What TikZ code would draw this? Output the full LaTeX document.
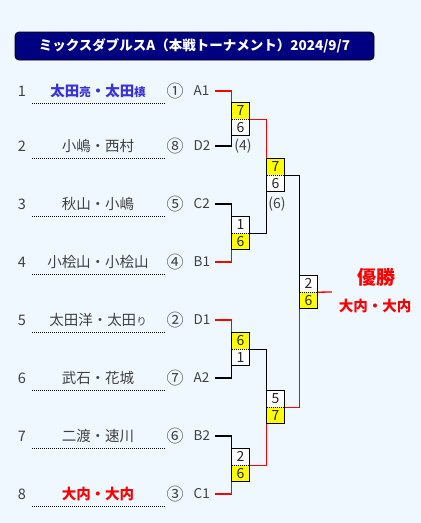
\documentclass[tikz,border=0pt]{standalone}
\usepackage{fontspec}
\setmainfont{Noto Sans CJK JP}
\definecolor{bgc}{HTML}{F0F8FF}
\definecolor{navyc}{HTML}{000080}
\definecolor{txt}{HTML}{404040}
\definecolor{bluec}{HTML}{3A32D8}
\definecolor{yel}{HTML}{FFFF00}
\tikzset{
  titlebox/.style={draw=black, line width=0.8pt, fill=navyc, rounded corners=4pt, minimum width=359pt, minimum height=28pt, inner sep=0pt, text=white, font=\fontsize{13.5}{15}\selectfont\bfseries},
  rownum/.style={inner sep=0pt, text=txt, font=\fontsize{14.5}{16}\selectfont},
  pname/.style={inner sep=0pt, text=txt, font=\fontsize{14.5}{16}\selectfont},
  seedc/.style={inner sep=0pt, text=txt, font=\fontsize{17}{19}\selectfont},
  seedl/.style={inner sep=0pt, anchor=west, text=txt, font=\fontsize{13.5}{15}\selectfont},
  dotline/.style={line width=1pt, dash pattern=on 1pt off 1pt, black},
  half/.style={minimum width=17pt, minimum height=16.5pt, inner sep=0pt, text=black!85, font=\fontsize{14}{15}\selectfont},
  win/.style={half, fill=yel},
  lose/.style={half, fill=white},
  wl/.style={red, line width=1.3pt},
  ll/.style={black, line width=1.3pt},
  boxline/.style={black, line width=1.3pt},
  gap/.style={inner sep=0pt, text=txt, font=\fontsize{14}{15}\selectfont},
}
\begin{document}
\begin{tikzpicture}[x=1pt,y=-1pt]
\fill[bgc] (0,0) rectangle (421,523);
\useasboundingbox (0,0) rectangle (421,523);

\node[titlebox] (title) at (194.5,46) {ミックスダブルスA（本戦トーナメント）2024/9/7};

% rows
\foreach \i/\y/\c/\l in {1/91/①/A1, 2/146/⑧/D2, 3/204/⑤/C2, 4/262/④/B1, 5/320/②/D1, 6/378/⑦/A2, 7/436/⑥/B2, 8/494/③/C1}{
  \node[rownum] (n\i) at (22,\y) {\i};
  \node[seedc] (c\i) at (175,\y) {\c};
  \node[seedl] (l\i) at (193.5,\y) {\l};
  \coordinate (s\i) at (215,\y);
  \draw[dotline] (32,\y+12) -- (165,\y+12);
}
\node[pname, text=bluec, font=\fontsize{14.5}{16}\selectfont\bfseries] (p1) at (98,91) {太田{\fontsize{11.5}{13}\selectfont 亮}・太田{\fontsize{11.5}{13}\selectfont 槙}};
\node[pname] (p2) at (98,146) {小嶋・西村};
\node[pname] (p3) at (98,204) {秋山・小嶋};
\node[pname] (p4) at (98,262) {小桧山・小桧山};
\node[pname] (p5) at (98,320) {太田洋・太田{\fontsize{10.5}{12}\selectfont り}};
\node[pname] (p6) at (98,378) {武石・花城};
\node[pname] (p7) at (98,436) {二渡・速川};
\node[pname, text=red, font=\fontsize{14.5}{16}\selectfont\bfseries] (p8) at (98,494) {大内・大内};

% score boxes (top half / bottom half)
\node[win]  (m1t) at (240.5,119-8.25) {7};
\node[lose] (m1b) at (240.5,119+8.25) {6};
\node[lose] (m2t) at (240.5,233-8.25) {1};
\node[win]  (m2b) at (240.5,233+8.25) {6};
\node[win]  (m3t) at (240.5,349-8.25) {6};
\node[lose] (m3b) at (240.5,349+8.25) {1};
\node[lose] (m4t) at (240.5,465-8.25) {2};
\node[win]  (m4b) at (240.5,465+8.25) {6};
\node[win]  (r1t) at (275.5,175-8.25) {7};
\node[lose] (r1b) at (275.5,175+8.25) {6};
\node[lose] (r2t) at (275.5,407-8.25) {5};
\node[win]  (r2b) at (275.5,407+8.25) {7};
\node[lose] (ft)  at (308.5,292-8.25) {2};
\node[win]  (fb)  at (308.5,292+8.25) {6};

\node[gap] (g1) at (243,146) {(4)};
\node[gap] (g2) at (277,204) {(6)};

% connectors
\draw[wl] (s1) -| (m1t.north west);
\draw[ll] (s2) -| (m1b.south west);
\draw[ll] (s3) -| (m2t.north west);
\draw[wl] (s4) -| (m2b.south west);
\draw[wl] (s5) -| (m3t.north west);
\draw[ll] (s6) -| (m3b.south west);
\draw[ll] (s7) -| (m4t.north west);
\draw[wl] (s8) -| (m4b.south west);
\draw[wl] (m1t.south east) -| (r1t.north west);
\draw[ll] (m2t.south east) -| (r1b.south west);
\draw[ll] (m3t.south east) -| (r2t.north west);
\draw[wl] (m4t.south east) -| (r2b.south west);
\draw[ll] (r1t.south east) -| (ft.north west);
\draw[wl] (r2t.south east) -| (fb.south west);
\coordinate (wend) at (332,292);
\draw[wl] (ft.south east) -- (wend);

% box outlines and dotted dividers
\foreach \m in {m1,m2,m3,m4,r1,r2,f}{
  \draw[boxline] (\m t.north west) rectangle (\m b.south east);
  \draw[black, line width=1pt, dash pattern=on 1pt off 1pt] (\m t.south west) -- (\m t.south east);
}

% winner
\node[inner sep=0pt, text=red, font=\fontsize{19}{21}\selectfont\bfseries] (champ) at (376,277) {優勝};
\node[inner sep=0pt, text=red, font=\fontsize{14.5}{16}\selectfont\bfseries] (champn) at (375,306) {大内・大内};
\end{tikzpicture}
\end{document}
